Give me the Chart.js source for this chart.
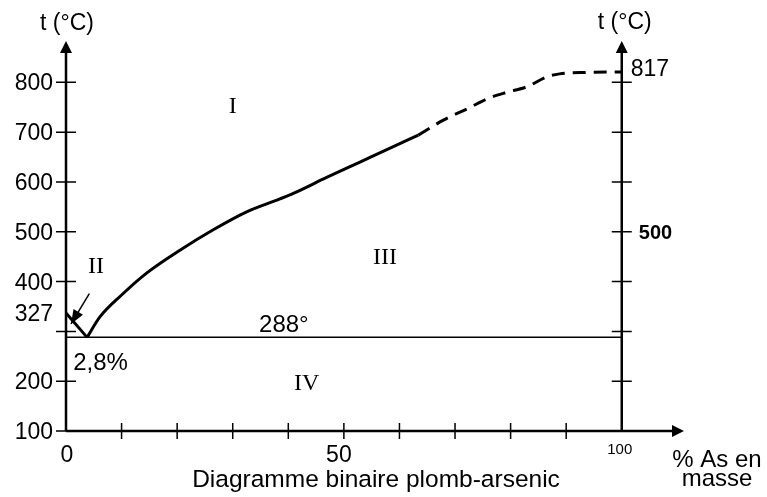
<!DOCTYPE html>
<html lang="fr">
<head>
  <meta charset="UTF-8">
  <title>Diagramme binaire plomb-arsenic</title>
  <script src="https://cdn.jsdelivr.net/npm/chart.js"></script>
  <style>
    body { margin: 0; background: #fff; }
    canvas { display: block; }
  </style>
</head>
<body>
  <canvas id="chart" width="767" height="497"></canvas>

  <script>
    // axes
    const xTickValues = [10, 20, 30, 40, 50, 60, 70, 80, 90];
    const xLabelValues = [0, 50, 100];
    const xLabelTexts = ['0', '50', '100'];
    const yTickValues = [100, 200, 300, 400, 500, 600, 700, 800];
    const yLabelTexts = ['100', '200', '', '400', '500', '600', '700', '800'];
    const rightTickValues = [200, 300, 400, 500, 600, 700, 800];
    const rightLabelValues = [817, 500];
    const rightLabelTexts = ['817', '500'];

    // courbes (x = % As, t en °C)
    const liqLeftX = [0, 3.8];
    const liqLeftT = [337, 288];
    const liqSolidX = [3.8, 6.1, 10.0, 14.5, 20.5, 26.5, 32.5, 38.5, 40.9, 46.9, 52.9, 58.9, 63.4];
    const liqSolidT = [288, 329, 373, 417, 463, 504, 540, 566, 577, 609, 640, 671, 694];
    const liqDashX = [63.4, 67.9, 72.4, 76.0, 79.3, 82.9, 86.5, 88.8, 93.6, 100];
    const liqDashT = [694, 724, 748, 768, 780, 791, 811, 817, 820, 821];
    const eutX = [0, 100];
    const eutT = [288, 288];

    // zones et annotations
    const zoneTexts = ['I', 'II', 'III', 'IV'];
    const zoneX = [30, 5.4, 57.4, 43.3];
    const zoneT = [739, 417, 435, 182];
    const noteTexts = ['288°', '2,8%', '327'];
    const noteX = [39.2, 1.3, 0];
    const noteT = [299, 222, 337];
    const arrowFrom = [4.2, 376];
    const arrowTo = [0.9, 315];

    const pts = (xs, ys) => xs.map((x, i) => ({ x: x, y: ys[i] }));

    const SANS = "'Liberation Sans', Arial, sans-serif";
    const SERIF = "'Liberation Serif', 'Times New Roman', serif";

    function text(ctx, s, x, y, font, align) {
      ctx.font = font;
      ctx.textAlign = align || 'center';
      ctx.textBaseline = 'alphabetic';
      ctx.fillText(s, x, y);
    }

    function arrowHead(ctx, x1, y1, x2, y2, len, half) {
      const a = Math.atan2(y2 - y1, x2 - x1);
      ctx.beginPath();
      ctx.moveTo(x2, y2);
      ctx.lineTo(x2 - len * Math.cos(a) + half * Math.sin(a), y2 - len * Math.sin(a) - half * Math.cos(a));
      ctx.lineTo(x2 - len * Math.cos(a) - half * Math.sin(a), y2 - len * Math.sin(a) + half * Math.cos(a));
      ctx.closePath();
      ctx.fill();
    }

    const overlay = {
      id: 'overlay',
      beforeDatasetsDraw(chart) {
        const ctx = chart.ctx;
        const xs = chart.scales.x, ys = chart.scales.y, area = chart.chartArea;
        const x0 = xs.getPixelForValue(0), x100 = xs.getPixelForValue(100);
        const yBase = ys.getPixelForValue(100);
        ctx.save();
        ctx.strokeStyle = '#000';
        ctx.fillStyle = '#000';
        ctx.lineWidth = 2.5;

        // axes
        ctx.beginPath();
        ctx.moveTo(x0, yBase); ctx.lineTo(x0, area.top + 10);
        ctx.moveTo(x100, yBase); ctx.lineTo(x100, area.top + 10);
        ctx.moveTo(x0, yBase); ctx.lineTo(area.right - 10, yBase);
        ctx.stroke();
        arrowHead(ctx, x0, yBase, x0, area.top, 12, 6);
        arrowHead(ctx, x100, yBase, x100, area.top, 12, 6);
        arrowHead(ctx, x0, yBase, area.right, yBase, 12, 6);

        // graduations
        ctx.lineWidth = 1.5;
        ctx.beginPath();
        yTickValues.forEach(v => {
          const y = ys.getPixelForValue(v);
          ctx.moveTo(x0 - 10, y); ctx.lineTo(x0 + 10, y);
        });
        rightTickValues.forEach(v => {
          const y = ys.getPixelForValue(v);
          ctx.moveTo(x100 - 10, y); ctx.lineTo(x100 + 10, y);
        });
        xTickValues.forEach(v => {
          const x = xs.getPixelForValue(v);
          ctx.moveTo(x, yBase - 8); ctx.lineTo(x, yBase + 8);
        });
        ctx.stroke();
        ctx.restore();
      },
      afterDatasetsDraw(chart) {
        const ctx = chart.ctx;
        const xs = chart.scales.x, ys = chart.scales.y;
        const x0 = xs.getPixelForValue(0), x100 = xs.getPixelForValue(100);
        const yBase = ys.getPixelForValue(100);
        ctx.save();
        ctx.fillStyle = '#000';
        ctx.strokeStyle = '#000';

        // étiquettes des axes
        yTickValues.forEach((v, i) => {
          if (yLabelTexts[i]) text(ctx, yLabelTexts[i], x0 - 13, ys.getPixelForValue(v) + 8, '23px ' + SANS, 'right');
        });
        text(ctx, rightLabelTexts[0], x100 + 9, ys.getPixelForValue(rightLabelValues[0]) + 2, '23px ' + SANS, 'left');
        text(ctx, rightLabelTexts[1], x100 + 17, ys.getPixelForValue(rightLabelValues[1]) + 7, 'bold 20px ' + SANS, 'left');
        text(ctx, xLabelTexts[0], xs.getPixelForValue(xLabelValues[0]) + 1, yBase + 31, '23px ' + SANS);
        text(ctx, xLabelTexts[1], xs.getPixelForValue(xLabelValues[1]) - 5, yBase + 31, '23px ' + SANS);
        text(ctx, xLabelTexts[2], xs.getPixelForValue(xLabelValues[2]) - 2, yBase + 23, '15px ' + SANS);

        text(ctx, 't (°C)', x0 + 1, 30, '23px ' + SANS);
        text(ctx, 't (°C)', x100 + 3, 29, '23px ' + SANS);
        text(ctx, '% As en', 717, 467, '24px ' + SANS);
        text(ctx, 'masse', 717, 486, '24px ' + SANS);
        text(ctx, 'Diagramme binaire plomb-arsenic', 376, 487, '24.5px ' + SANS);

        // zones
        zoneTexts.forEach((s, i) => {
          text(ctx, s, xs.getPixelForValue(zoneX[i]), ys.getPixelForValue(zoneT[i]), '24px ' + SERIF);
        });

        // annotations
        text(ctx, noteTexts[0], xs.getPixelForValue(noteX[0]), ys.getPixelForValue(noteT[0]), '24px ' + SANS);
        text(ctx, noteTexts[1], xs.getPixelForValue(noteX[1]), ys.getPixelForValue(noteT[1]), '24px ' + SANS, 'left');
        text(ctx, noteTexts[2], xs.getPixelForValue(noteX[2]) - 13, ys.getPixelForValue(noteT[2]) + 8, '23px ' + SANS, 'right');

        const ax1 = xs.getPixelForValue(arrowFrom[0]), ay1 = ys.getPixelForValue(arrowFrom[1]);
        const ax2 = xs.getPixelForValue(arrowTo[0]), ay2 = ys.getPixelForValue(arrowTo[1]);
        ctx.lineWidth = 1.5;
        ctx.beginPath();
        ctx.moveTo(ax1, ay1); ctx.lineTo(ax2, ay2);
        ctx.stroke();
        arrowHead(ctx, ax1, ay1, ax2, ay2, 14, 5.5);
        ctx.restore();
      }
    };

    const lineStyle = {
      borderColor: '#000',
      borderWidth: 3,
      pointRadius: 0,
      showLine: true,
      fill: false,
      clip: false,
      cubicInterpolationMode: 'monotone'
    };

    new Chart(document.getElementById('chart'), {
      type: 'scatter',
      data: {
        datasets: [
          Object.assign({ label: 'liquidus Pb', data: pts(liqLeftX, liqLeftT) }, lineStyle, { tension: 0 }),
          Object.assign({ label: 'liquidus', data: pts(liqSolidX, liqSolidT) }, lineStyle),
          Object.assign({ label: 'liquidus (extrapolé)', data: pts(liqDashX, liqDashT), borderDash: [13, 8] }, lineStyle),
          Object.assign({ label: 'eutectique', data: pts(eutX, eutT) }, lineStyle, { borderWidth: 1.5, tension: 0 })
        ]
      },
      options: {
        responsive: false,
        animation: false,
        layout: { padding: { left: 66, right: 83, top: 41, bottom: 66 } },
        scales: {
          x: { type: 'linear', min: 0, max: 111.2, display: false },
          y: { type: 'linear', min: 100, max: 883, display: false }
        },
        plugins: {
          legend: { display: false },
          tooltip: { enabled: false }
        }
      },
      plugins: [overlay]
    });
  </script>
</body>
</html>
